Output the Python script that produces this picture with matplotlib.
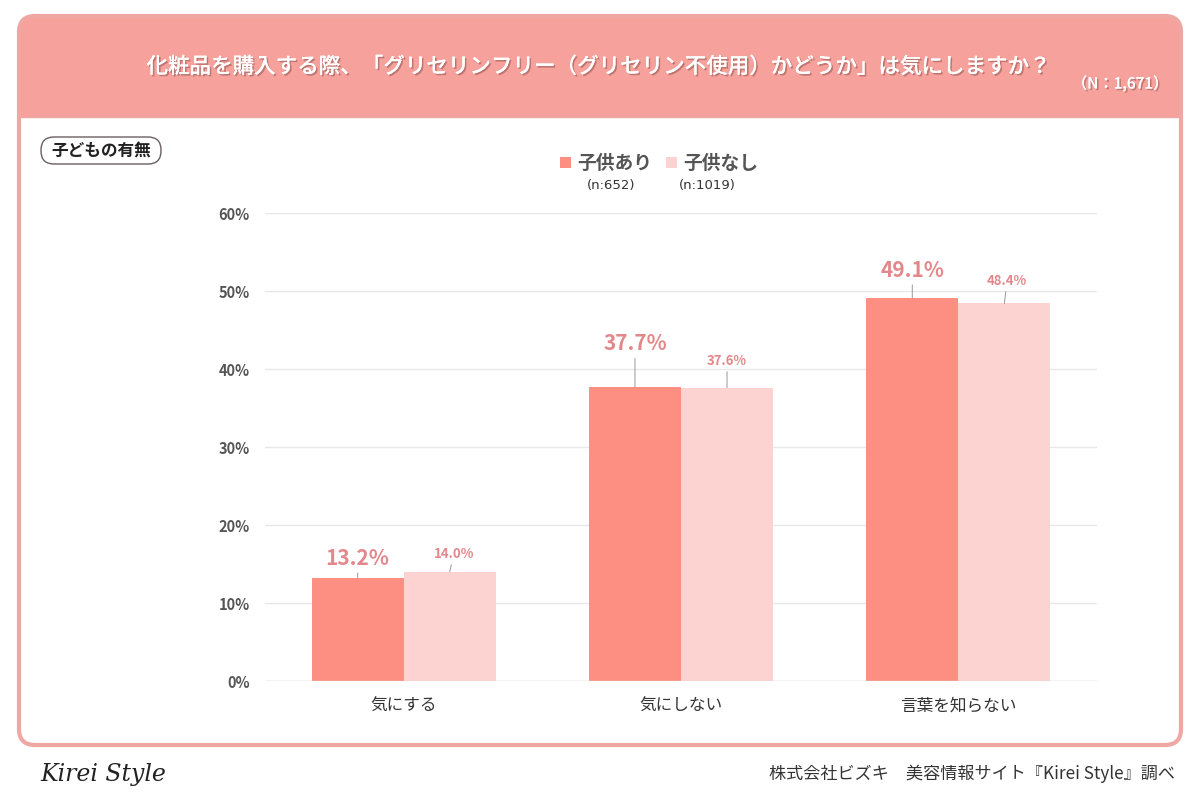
import matplotlib.pyplot as plt
import matplotlib.patheffects as pe
from matplotlib.patches import FancyBboxPatch, Rectangle
import numpy as np

plt.rcParams['font.family'] = ['Noto Sans CJK JP', 'DejaVu Sans']

categories = ["気にする", "気にしない", "言葉を知らない"]
series_names = ["子供あり", "子供なし"]
series_n = ["(n:652)", "(n:1019)"]
with_kids = [13.2, 37.7, 49.1]
without_kids = [14.0, 37.6, 48.4]
yticks = [0, 10, 20, 30, 40, 50, 60]

title = "化粧品を購入する際、「グリセリンフリー（グリセリン不使用）かどうか」は気にしますか？"
n_text = "（N：1,671）"
badge = "子どもの有無"
source = "株式会社ビズキ　美容情報サイト『Kirei Style』調べ"

dark = "#FD8F82"
light = "#FDD3D1"
label_col = "#E3888A"

fig = plt.figure(figsize=(12, 8), dpi=100)

# background / frame drawn in pixel coords
bg = fig.add_axes([0, 0, 1, 1])
bg.set_xlim(0, 1200)
bg.set_ylim(800, 0)
bg.axis("off")
bg.add_patch(FancyBboxPatch((19, 16), 1162, 729, boxstyle="round,pad=0,rounding_size=16",
                            facecolor="#F6A19B", edgecolor="none"))
bg.add_patch(Rectangle((20, 117), 1160, 600, facecolor="white", edgecolor="none"))
bg.add_patch(FancyBboxPatch((20, 140), 1160, 604, boxstyle="round,pad=0,rounding_size=14",
                            facecolor="white", edgecolor="none"))
bg.plot([20, 1180], [117, 117], color="#EDA6A2", lw=1)
bg.add_patch(FancyBboxPatch((19, 16), 1162, 729, boxstyle="round,pad=0,rounding_size=16",
                            facecolor="none", edgecolor="#EFA7A4", lw=3))

shadow = [pe.withSimplePatchShadow(offset=(1.2, -1.2), shadow_rgbFace="#9a5a56", alpha=0.6), pe.Normal()]
bg.text(598, 67, title, ha="center", va="center", fontsize=15.5, color="white",
        fontweight="medium", path_effects=shadow)
bg.text(1120, 84, n_text, ha="center", va="center", fontsize=11, color="white",
        fontweight="medium", path_effects=shadow)

bg.add_patch(FancyBboxPatch((41, 137), 120, 27, boxstyle="round,pad=0,rounding_size=13",
                            facecolor="white", edgecolor="#6a5f60", lw=1))
bg.text(101, 151, badge, ha="center", va="center", fontsize=12, color="#222222", fontweight="bold")

# legend
n_centers = [611, 707]
for i, (name, n, c) in enumerate(zip(series_names, series_n, [dark, light])):
    x0 = 560 + i * 106
    bg.add_patch(Rectangle((x0, 157), 11, 11, facecolor=c, edgecolor="none"))
    bg.text(x0 + 17, 163, name, ha="left", va="center", fontsize=13.5, color="#555555", fontweight="bold")
    bg.text(n_centers[i], 186, n, ha="center", va="center", fontsize=9.5, color="#333333",
            family="DejaVu Sans")

bg.text(40, 775, "Kirei Style", ha="left", va="center", fontsize=17, color="#222222",
        family="DejaVu Serif", style="italic")
bg.text(1175, 774, source, ha="right", va="center", fontsize=12.3, color="#333333")

# chart
ax = fig.add_axes([265 / 1200, 1 - 681 / 800, 832 / 1200, 468 / 800])
ax.set_facecolor("none")
x = np.arange(len(categories))
w = 0.332
ax.bar(x - w / 2, with_kids, w, color=dark, zorder=3)
ax.bar(x + w / 2, without_kids, w, color=light, zorder=3)
ax.set_xlim(-0.5, 2.5)
ax.set_ylim(0, 60)
ax.set_yticks(yticks)
ax.set_yticklabels([f"{t}%" for t in yticks], fontsize=10.5, color="#555555", fontweight="bold")
ax.set_xticks(x)
ax.set_xticklabels(categories, fontsize=12, color="#333333")
ax.tick_params(axis="x", length=0, pad=12)
ax.tick_params(axis="y", length=0, pad=11)
for s in ax.spines.values():
    s.set_visible(False)
ax.grid(axis="y", color="#E8E8E8", lw=1, zorder=0)
ax.axhline(0, color="#D8D8D8", lw=1, zorder=4)

# label offsets in points (dx, dy)
dark_off = [(0, 6.5), (0, 23.5), (0, 12.5)]
light_off = [(3, 8), (0, 14.5), (2, 11.5)]
for i in range(len(categories)):
    ax.annotate(f"{with_kids[i]:.1f}%", (x[i] - w / 2, with_kids[i]), xytext=dark_off[i],
                textcoords="offset points", ha="center", va="bottom", fontsize=15,
                fontweight="bold", color=label_col,
                arrowprops=dict(arrowstyle="-", color="#999999", lw=0.7, shrinkA=1, shrinkB=0))
    ax.annotate(f"{without_kids[i]:.1f}%", (x[i] + w / 2, without_kids[i]), xytext=light_off[i],
                textcoords="offset points", ha="center", va="bottom", fontsize=9.5,
                fontweight="bold", color=label_col,
                arrowprops=dict(arrowstyle="-", color="#999999", lw=0.7, shrinkA=1, shrinkB=0))

fig.savefig("out.png", dpi=100)
